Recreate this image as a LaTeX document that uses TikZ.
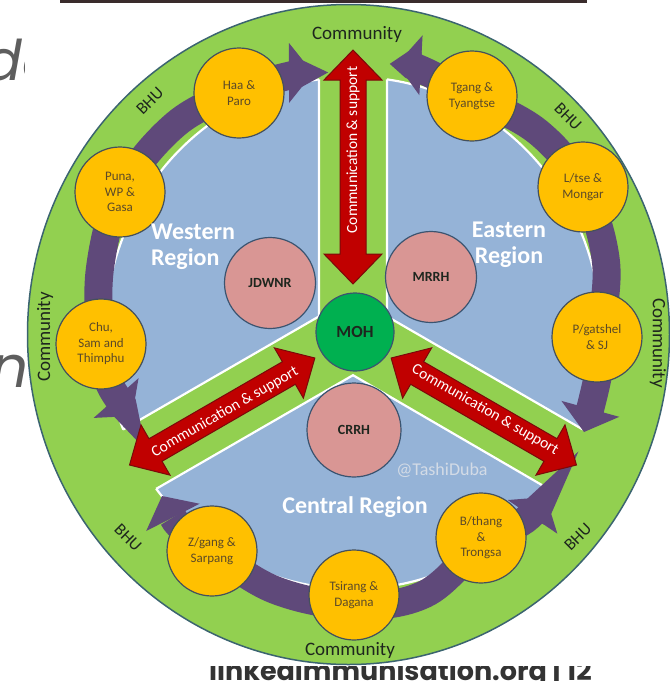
\documentclass[tikz,border=0pt]{standalone}
\usepackage{fontspec}
\setmainfont{Carlito}
\newfontfamily\slidefont[FakeSlant=0.18]{Poppins}
\newfontfamily\slidebold{Poppins}
\usetikzlibrary{arrows.meta}

\definecolor{ringgreen}{HTML}{92D050}
\definecolor{ringedge}{HTML}{3B6470}
\definecolor{regionblue}{HTML}{95B3D7}
\definecolor{bhupurple}{HTML}{5F497A}
\definecolor{bubbleorange}{HTML}{FFC000}
\definecolor{bubbleedge}{HTML}{44505C}
\definecolor{bubbletext}{HTML}{5C4A28}
\definecolor{hospink}{HTML}{D99694}
\definecolor{hospedge}{HTML}{3B5470}
\definecolor{mohgreen}{HTML}{00B050}
\definecolor{arrowred}{HTML}{C00000}
\definecolor{arrowedge}{HTML}{7A0A0A}
\definecolor{inktext}{HTML}{1E261E}
\definecolor{slidegrey}{HTML}{5E5E5E}
\definecolor{topbar}{HTML}{3A2C2C}
\definecolor{watermark}{HTML}{D3DBE6}

\tikzset{
  bubble/.style={circle, fill=bubbleorange, draw=bubbleedge, line width=1.2pt,
    minimum size=90pt, inner sep=0pt, align=center, text=bubbletext,
    font=\fontsize{13}{15.5}\selectfont},
  hospital/.style={circle, fill=hospink, draw=hospedge, line width=1.2pt,
    minimum size=91pt, inner sep=0pt, text=inktext,
    font=\bfseries\fontsize{14}{16}\selectfont},
  regiontext/.style={text=white, inner sep=0pt, font=\bfseries\fontsize{24}{26}\selectfont},
  ringtext/.style={text=inktext, inner sep=0pt, font=\fontsize{19}{20}\selectfont},
  bhulabel/.style={text=inktext, inner sep=0pt, font=\fontsize{17}{18}\selectfont},
  commlabel/.style={text=white, inner sep=0pt, font=\fontsize{15.5}{17}\selectfont},
  bhuarrow/.style={draw=bhupurple, line width=28pt,
    arrows={Triangle[width=60pt,length=24pt,line width=0pt]-Triangle[width=60pt,length=24pt,line width=0pt]}},
  bandedge/.style={draw=white, line width=2.2pt},
  pics/redarrow/.style={code={
    \filldraw[fill=arrowred, draw=arrowedge, line width=1pt, line join=miter]
      (-#1,0) -- (-#1+30,29) -- (-#1+30,13) -- (#1-30,13) -- (#1-30,29) -- (#1,0)
      -- (#1-30,-29) -- (#1-30,-13) -- (-#1+30,-13) -- (-#1+30,-29) -- cycle;
  }}
}

\begin{document}
\begin{tikzpicture}[x=1pt,y=-1pt]
\useasboundingbox (0,0) rectangle (670,681);
\fill[white] (0,0) rectangle (670,681);

% slide behind the chart
\fill[topbar] (60,0) rectangle (587,2.5);
\node[anchor=base west, inner sep=0pt, text=slidegrey,
  font=\slidefont\fontsize{56}{60}\selectfont] (slidedo) at (-19,80) {do};
\node[anchor=base west, inner sep=0pt, text=slidegrey,
  font=\slidefont\fontsize{58}{60}\selectfont] (sliden) at (-12,387) {n};
\node[anchor=base west, inner sep=0pt, text=black!80,
  font=\slidebold\bfseries\fontsize{27}{30}\selectfont] (footer) at (209,680)
  {linkedimmunisation.org | 12};
\fill[white] (25,3) rectangle (670,666);

% community ring
\filldraw[fill=ringgreen, draw=ringedge, line width=1.5pt]
  (348.5,334.5) ellipse [x radius=321, y radius=330];

% regions: wedges between the bands, cut by the inner ellipse
\def\regionclip{(353,333) ellipse [x radius=248, y radius=256]}
\begin{scope}
  \clip (319,316.4) -- (319,-300) -- (-500,-300) -- (-500,789.3) -- cycle;
  \filldraw[fill=regionblue, draw=white, line width=2.2pt] \regionclip;
\end{scope}
\begin{scope}
  \clip (387,316.4) -- (387,-300) -- (1200,-300) -- (1200,785.8) -- cycle;
  \filldraw[fill=regionblue, draw=white, line width=2.2pt] \regionclip;
\end{scope}
\begin{scope}
  \clip (353,375.2) -- (-500,867.7) -- (-500,1200) -- (1200,1200) -- (1200,867.7) -- cycle;
  \filldraw[fill=regionblue, draw=white, line width=2.2pt] \regionclip;
\end{scope}
\begin{scope}
  \clip \regionclip;
  \draw[bandedge] (319,-300) -- (319,316.4) -- (-500,789.3);
  \draw[bandedge] (387,-300) -- (387,316.4) -- (1200,785.8);
  \draw[bandedge] (-500,867.7) -- (353,375.2) -- (1200,867.7);
\end{scope}

% BHU arrows around each region
\draw[bhuarrow] plot[smooth, tension=0.6] coordinates
  {(313,73) (288,76) (239,91) (176,124) (122,190) (100,268) (101,344) (110,385) (132,416)};
\draw[bhuarrow] plot[smooth, tension=0.6] coordinates
  {(397,64) (422,70) (472,96) (538,132) (583,187) (606,262) (600,337) (598,375) (584,432)};
\draw[bhuarrow] plot[smooth, tension=0.6] coordinates
  {(162,496) (183,530) (212,551) (275,590) (354,606) (425,594) (481,545) (525,520) (546,497)};

% communication arrows along the bands
\pic[rotate=90] at (353,167) {redarrow=117};
\pic[rotate=30] at (222.2,411.5) {redarrow=107};
\pic[rotate=-30] at (483.8,411.5) {redarrow=107};
\node[commlabel, rotate=90] (commup) at (353,150) {Communication \& support};
\node[commlabel, rotate=30] (commleft) at (225,412) {Communication \& support};
\node[commlabel, rotate=-30] (commright) at (485,410) {Communication \& support};

% district bubbles
\node[bubble] (haa) at (239,93) {Haa \&\\Paro};
\node[bubble] (puna) at (120,192) {Puna,\\WP \&\\Gasa};
\node[bubble] (chu) at (101,344) {Chu,\\Sam and\\Thimphu};
\node[bubble] (tgang) at (472,96) {Tgang \&\\Tyangtse};
\node[bubble] (ltse) at (583,187) {L/tse \&\\Mongar};
\node[bubble] (pgatshel) at (597,337) {P/gatshel\\\& SJ};
\node[bubble] (zgang) at (212,551) {Z/gang \&\\Sarpang};
\node[bubble] (tsirang) at (354,595) {Tsirang \&\\Dagana};
\node[bubble] (bthang) at (481,538) {B/thang\\\&\\Trongsa};

% regional hospitals and ministry
\node[hospital] (jdwnr) at (270,283) {JDWNR};
\node[hospital] (mrrh) at (431,277) {MRRH};
\node[hospital, minimum size=94pt] (crrh) at (354,430) {CRRH};
\node[circle, fill=mohgreen, draw=hospedge, line width=1.2pt, minimum size=78pt,
  inner sep=0pt, text=inktext, font=\bfseries\fontsize{17}{18}\selectfont] (moh) at (355,332) {MOH};

% region names
\node[regiontext, anchor=west, align=left] (western) at (151,247) {Western\\Region};
\node[regiontext, align=center] (eastern) at (509,245) {Eastern\\Region};
\node[regiontext] (central) at (355,507) {Central Region};
\node[text=watermark, inner sep=0pt, font=\fontsize{18}{20}\selectfont] (credit) at (442,470) {@TashiDuba};

% ring labels
\node[ringtext] (commtop) at (357,34) {Community};
\node[ringtext] (commbottom) at (350,650) {Community};
\node[ringtext, rotate=90] (commwest) at (45,337) {Community};
\node[ringtext, rotate=-90] (commeast) at (658,343) {Community};
\node[bhulabel, rotate=45] (bhunw) at (150,101) {BHU};
\node[bhulabel, rotate=-45] (bhune) at (568,117) {BHU};
\node[bhulabel, rotate=-45] (bhusw) at (128,538) {BHU};
\node[bhulabel, rotate=45] (bhuse) at (578,537) {BHU};
\end{tikzpicture}
\end{document}
